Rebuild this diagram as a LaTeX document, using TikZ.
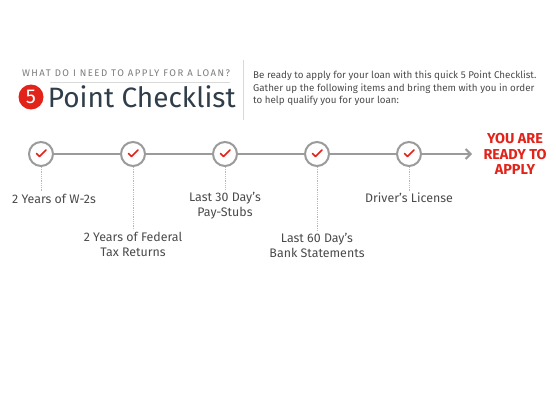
\documentclass[tikz,border=0pt]{standalone}
\usepackage{fontspec}
\setmainfont{Fira Sans}
\usetikzlibrary{positioning}
\usetikzlibrary{arrows.meta}
\definecolor{ckred}{HTML}{E2231A}
\definecolor{ckgray}{HTML}{9B9B9B}
\definecolor{ckline}{HTML}{D9D9D9}
\definecolor{ckslate}{HTML}{2F3E4A}
\definecolor{cktext}{HTML}{4A4A4A}
\newcommand{\ckmark}[1]{\draw[tick] ([shift={(-4.5pt,0.5pt)}]#1.center) -- ++(3pt,-3pt) -- ++(6.5pt,6.5pt);}

\begin{document}
\begin{tikzpicture}[x=1pt, y=1pt,
  step node/.style={circle, draw=ckgray, line width=2pt, fill=white, minimum size=24pt, inner sep=0pt},
  tick/.style={ckred, line width=1.6pt, line cap=round, line join=round},
  item/.style={align=center, font=\fontsize{12.4}{15}\selectfont, text=cktext, inner sep=2pt},
  timeline/.style={ckgray, line width=2pt},
  pin/.style={ckgray!70, line width=0.8pt, densely dotted},
  node distance=66pt]
%\draw [help lines] (0,0) grid (556,400);
\useasboundingbox (0,0) rectangle (556,400);

% Header
\node[font=\fontsize{9.6}{10}\selectfont\addfontfeatures{LetterSpace=15}, text=ckgray!80!black] (ask) at (126,327) {WHAT DO I NEED TO APPLY FOR A LOAN?};
\draw[ckline, line width=0.6pt] (50,318) -- (230,318);
\node[circle, fill=ckred, minimum size=25pt, inner sep=0pt, text=white, font=\fontsize{20}{20}\selectfont] (five) at (31,303) {5};
\node[right = 4pt of five, inner sep=0pt, text=ckslate, font=\fontsize{28}{30}\selectfont] (title) {Point Checklist};
\draw[ckline, line width=0.6pt] (243,340) -- (243,280);
\node[anchor=north west, inner sep=0pt, align=left, text=cktext, font=\fontsize{9.8}{12.5}\selectfont] (intro) at (253,329)
  {Be ready to apply for your loan with this quick 5 Point Checklist.\\
   Gather up the following items and bring them with you in order\\
   to help qualify you for your loan:};

% Steps
\node[step node]                   (c1) at (41,246) {};
\node[step node, right = of c1]    (c2) {};
\node[step node, right = of c2]    (c3) {};
\node[step node, right = of c3]    (c4) {};
\node[step node, right = of c4]    (c5) {};
\coordinate (end) at (472,246);

\foreach \c in {c1,c2,c3,c4,c5} {\ckmark{\c}}

\node[align=center, text=ckred, font=\fontsize{14.4}{15.5}\selectfont\bfseries] (ready) at (515,246) {YOU ARE\\READY TO\\APPLY};

% Labels
\node[item, below = 25pt of c1, xshift=13pt] (l1) {2 Years of W-2s};
\node[item, below = 63pt of c2]              (l2) {2 Years of Federal\\Tax Returns};
\node[item, below = 23pt of c3]              (l3) {Last 30 Day’s\\Pay-Stubs};
\node[item, below = 64pt of c4]              (l4) {Last 60 Day’s\\Bank Statements};
\node[item, below = 24pt of c5]              (l5) {Driver’s License};

% Edges
\draw[timeline] (c1) -- (c2);
\draw[timeline] (c2) -- (c3);
\draw[timeline] (c3) -- (c4);
\draw[timeline] (c4) -- (c5);
\draw[timeline, -{Straight Barb[length=5pt, width=10pt]}] (c5) -- (end);
\draw[pin] (c1) -- (c1 |- l1.north);
\foreach \i in {2,...,5} {\draw[pin] (c\i) -- (l\i);}
\end{tikzpicture}
\end{document}
